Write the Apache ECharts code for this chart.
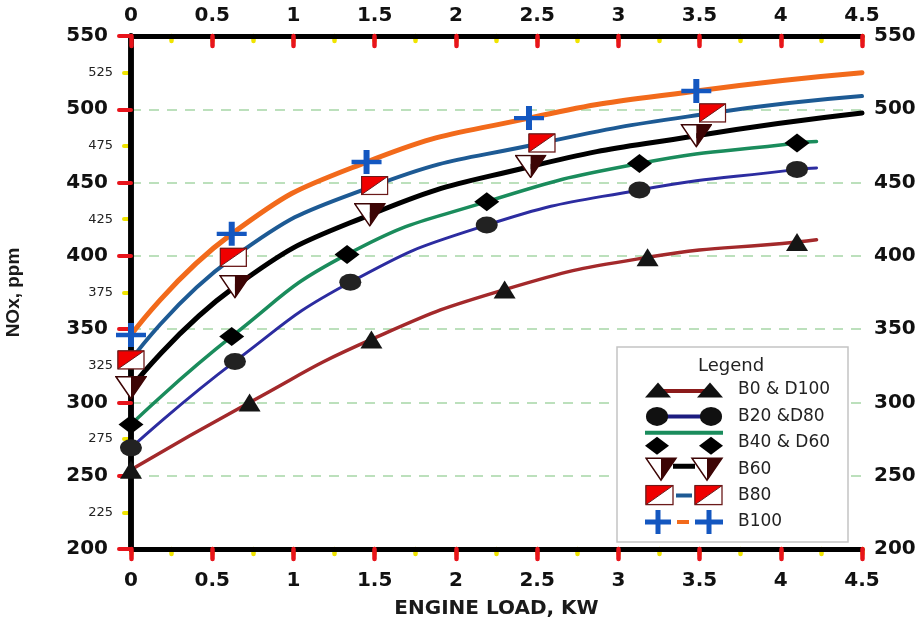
<!DOCTYPE html>
<html>
<head>
<meta charset="utf-8">
<script src="https://cdn.jsdelivr.net/npm/echarts@6/dist/echarts.min.js"></script>
<style>
  html, body { margin: 0; padding: 0; background: #fff; }
  #chart { width: 924px; height: 619px; }
</style>
</head>
<body>
<div id="chart"></div>
<script>
// Blend names as listed in the legend
const blends = ['B0 & D100', 'B20 &D80', 'B40 & D60', 'B60', 'B80', 'B100'];

// Measured points: engine load (kW) and NOx (ppm) for each blend
const b0Load = [0, 0.73, 1.48, 2.30, 3.18, 4.10];
const b0NOx = [254, 300, 343, 377, 399, 409.5];
const b20Load = [0, 0.64, 1.35, 2.19, 3.13, 4.10];
const b20NOx = [269, 328, 382, 421, 445, 459];
const b40Load = [0, 0.62, 1.33, 2.19, 3.13, 4.10];
const b40NOx = [285, 345, 401, 437, 463, 477];
const b60Load = [0, 0.64, 1.47, 2.46, 3.48];
const b60NOx = [310, 379, 428, 461, 482];
const b80Load = [0, 0.63, 1.50, 2.53, 3.58];
const b80NOx = [329, 399, 448, 477, 497.5];
const b100Load = [0, 0.62, 1.45, 2.45, 3.48];
const b100NOx = [346, 415, 464, 494, 512.5];

// Where each trend curve runs out (load, NOx)
const b0CurveEnd = [4.22, 411];
const b20CurveEnd = [4.22, 460];
const b40CurveEnd = [4.22, 478];
const b60CurveEnd = [4.5, 497.5];
const b80CurveEnd = [4.5, 509];
const b100CurveEnd = [4.5, 525];

// Axis ranges and tick steps
const loadRange = [0, 4.5];
const noxRange = [200, 550];
const loadStep = 0.5;
const noxStep = 50;

// ---- marker / legend artwork --------------------------------------------
function svgImage(w, h, body) {
  return 'image://data:image/svg+xml;charset=utf-8,' + encodeURIComponent(
    '<svg xmlns="http://www.w3.org/2000/svg" width="' + w + '" height="' + h +
    '" viewBox="0 0 ' + w + ' ' + h + '">' + body + '</svg>');
}
const DARK_RED = '#3d0505';
function halfTriangle(cx, cy, w, h) {
  const l = cx - w / 2, r = cx + w / 2, t = cy - h / 2, b = cy + h / 2;
  return '<polygon points="' + l + ',' + t + ' ' + cx + ',' + t + ' ' + cx + ',' + b + '" fill="#fff"/>' +
         '<polygon points="' + cx + ',' + t + ' ' + r + ',' + t + ' ' + cx + ',' + b + '" fill="' + DARK_RED + '"/>' +
         '<polygon points="' + l + ',' + t + ' ' + r + ',' + t + ' ' + cx + ',' + b + '" fill="none" stroke="' + DARK_RED + '" stroke-width="1.5"/>';
}
function flagSquare(x, y, w, h) {
  return '<rect x="' + x + '" y="' + y + '" width="' + w + '" height="' + h + '" fill="#fff" stroke="#6b1a1a" stroke-width="1.3"/>' +
         '<polygon points="' + x + ',' + y + ' ' + (x + w) + ',' + y + ' ' + x + ',' + (y + h) + '" fill="#f00000" stroke="#6b1a1a" stroke-width="1"/>';
}
function plus(cx, cy, w, h, t, color) {
  return '<rect x="' + (cx - w / 2) + '" y="' + (cy - t / 2) + '" width="' + w + '" height="' + t + '" fill="' + color + '"/>' +
         '<rect x="' + (cx - t / 2) + '" y="' + (cy - h / 2) + '" width="' + t + '" height="' + h + '" fill="' + color + '"/>';
}
function tri(cx, cy, w, h) {
  return '<polygon points="' + (cx - w / 2) + ',' + (cy + h / 2) + ' ' + cx + ',' + (cy - h / 2) + ' ' + (cx + w / 2) + ',' + (cy + h / 2) + '" fill="#111"/>';
}
function diamond(cx, cy, w, h) {
  return '<polygon points="' + (cx - w / 2) + ',' + cy + ' ' + cx + ',' + (cy - h / 2) + ' ' + (cx + w / 2) + ',' + cy + ' ' + cx + ',' + (cy + h / 2) + '" fill="#000"/>';
}

const B60_SYMBOL = svgImage(32, 24, halfTriangle(16, 12, 30, 22));
const B80_SYMBOL = svgImage(28, 20, flagSquare(1, 1, 26, 18));
const CROSS_PATH = 'path://M9.6,0 H14.4 V9.8 H24 V14.2 H14.4 V24 H9.6 V14.2 H0 V9.8 H9.6 Z';

const LW = 88, LH = 26;
const legendIcons = [
  svgImage(LW, LH, '<line x1="14" y1="14" x2="64" y2="14" stroke="#8b1a1a" stroke-width="4"/>' + tri(13, 13, 26, 15) + tri(65, 13, 26, 15)),
  svgImage(LW, LH, '<line x1="20" y1="13" x2="58" y2="13" stroke="#1c1c80" stroke-width="4"/>' +
    '<ellipse cx="12" cy="13" rx="11" ry="9.5" fill="#111"/><ellipse cx="66" cy="13" rx="11" ry="9.5" fill="#111"/>'),
  svgImage(LW, LH, '<line x1="0" y1="3" x2="78" y2="3" stroke="#1a8c5c" stroke-width="4"/>' + diamond(12, 16, 24, 18) + diamond(66, 16, 24, 18)),
  svgImage(LW, LH, '<line x1="28" y1="10" x2="50" y2="10" stroke="#000" stroke-width="5"/>' + halfTriangle(16, 13, 30, 22) + halfTriangle(62, 13, 30, 22)),
  svgImage(LW, LH, flagSquare(1, 3, 27, 19) + flagSquare(50, 3, 27, 19) +
    '<line x1="31" y1="13" x2="47" y2="13" stroke="#1d5a94" stroke-width="4"/>'),
  svgImage(LW, LH, '<line x1="32" y1="13" x2="44" y2="13" stroke="#f26a1b" stroke-width="4"/>' +
    plus(13, 13, 26, 24, 5, '#1457c0') + plus(64, 13, 28, 24, 5, '#1457c0'))
];

// ---- series ---------------------------------------------------------------
const groups = [
  { load: b0Load, nox: b0NOx, end: b0CurveEnd, color: '#a3292b', width: 3.5,
    symbol: 'triangle', size: [22, 18], markerColor: '#151515' },
  { load: b20Load, nox: b20NOx, end: b20CurveEnd, color: '#2c2ca0', width: 3,
    symbol: 'circle', size: [22, 17], markerColor: '#222' },
  { load: b40Load, nox: b40NOx, end: b40CurveEnd, color: '#1a8c5c', width: 3.5,
    symbol: 'diamond', size: [25, 19], markerColor: '#000' },
  { load: b60Load, nox: b60NOx, end: b60CurveEnd, color: '#000000', width: 5,
    symbol: B60_SYMBOL, size: [32, 24], markerColor: null },
  { load: b80Load, nox: b80NOx, end: b80CurveEnd, color: '#1d5a94', width: 4,
    symbol: B80_SYMBOL, size: [28, 20], markerColor: null },
  { load: b100Load, nox: b100NOx, end: b100CurveEnd, color: '#f26a1b', width: 5,
    symbol: CROSS_PATH, size: [30, 24], markerColor: '#1457c0' }
];

const series = [];
groups.forEach(function (g, i) {
  const pts = g.load.map(function (x, k) { return [x, g.nox[k]]; });
  series.push({
    name: blends[i], type: 'line', xAxisIndex: 0, yAxisIndex: 0,
    data: pts.concat([g.end]), smooth: 0.5,
    showSymbol: false, z: 3,
    lineStyle: { color: g.color, width: g.width, cap: 'round' },
    itemStyle: { color: g.color }
  });
});
groups.forEach(function (g, i) {
  const pts = g.load.map(function (x, k) { return [x, g.nox[k]]; });
  const s = {
    name: blends[i], type: 'scatter', xAxisIndex: 0, yAxisIndex: 0,
    data: pts, symbol: g.symbol, symbolSize: g.size, symbolKeepAspect: false, z: 4,
    itemStyle: { opacity: 1 }
  };
  if (g.markerColor) s.itemStyle.color = g.markerColor;
  series.push(s);
});

// ---- axes -----------------------------------------------------------------
const RED = '#e8141b', YELLOW = '#f0e400';
const majorFont = { fontSize: 20, fontWeight: 'bold', fontFamily: 'DejaVu Sans', color: '#111' };

function xAxisDef(pos, major) {
  const inside = pos === 'top';
  return {
    type: 'value', position: pos, min: loadRange[0], max: loadRange[1],
    interval: major ? loadStep : loadStep / 2, z: major ? 3 : 2,
    axisLine: { show: major, lineStyle: { color: '#000', width: 5 } },
    axisTick: { show: true, inside: inside, length: major ? 10 : 5,
      lineStyle: { color: major ? RED : YELLOW, width: 4.5, cap: 'round' } },
    axisLabel: Object.assign({ show: major, margin: pos === 'top' ? 10 : 22 }, majorFont),
    splitLine: { show: false }
  };
}
function yAxisDef(pos, major) {
  const inside = pos === 'right';
  const def = {
    type: 'value', position: pos, min: noxRange[0], max: noxRange[1],
    interval: major ? noxStep : noxStep / 2, z: major ? 3 : 2,
    axisLine: { show: major, lineStyle: { color: '#000', width: 5.5 } },
    axisTick: { show: true, inside: inside, length: major ? 12 : 7,
      lineStyle: { color: major ? RED : YELLOW, width: 4, cap: 'round' } },
    axisLabel: Object.assign({ show: major, margin: pos === 'left' ? 23 : 12 }, majorFont),
    splitLine: { show: false }
  };
  if (!major && pos === 'left') {
    def.axisLabel = {
      show: true, margin: 18, fontSize: 13, fontFamily: 'DejaVu Sans', color: '#222',
      formatter: function (v) { return v % noxStep ? String(v) : ''; }
    };
  }
  return def;
}

const xAxes = [xAxisDef('bottom', true), xAxisDef('bottom', false), xAxisDef('top', true), xAxisDef('top', false)];
xAxes[0].name = 'ENGINE LOAD, KW';
xAxes[0].nameLocation = 'middle';
xAxes[0].nameGap = 50;
xAxes[0].nameTextStyle = { fontSize: 20, fontWeight: 'bold', fontFamily: 'DejaVu Sans', color: '#1a1a1a' };

const yAxes = [yAxisDef('left', true), yAxisDef('left', false), yAxisDef('right', true), yAxisDef('right', false)];
yAxes[0].name = 'NOx, ppm';
yAxes[0].nameLocation = 'middle';
yAxes[0].nameGap = 108;
yAxes[0].nameRotate = 90;
yAxes[0].nameTextStyle = { fontSize: 19, fontWeight: 'bold', fontFamily: 'Liberation Sans', color: '#1a1a1a' };
yAxes[0].splitLine = { show: true, lineStyle: { color: '#a6d6a6', width: 1.5, type: [10, 8] } };

const chart = echarts.init(document.getElementById('chart'), null, { renderer: 'canvas' });
chart.setOption({
  animation: false,
  backgroundColor: '#ffffff',
  grid: { left: 131, right: 62, top: 36, bottom: 70, containLabel: false, outerBoundsMode: 'none' },
  xAxis: xAxes,
  yAxis: yAxes,
  legend: {
    orient: 'vertical', left: 645, top: 377, padding: 0, z: 10,
    itemWidth: LW, itemHeight: LH, itemGap: 0.4, selectedMode: false,
    textStyle: { fontSize: 17, fontFamily: 'DejaVu Sans', color: '#222' },
    data: blends.map(function (b, i) { return { name: b, icon: legendIcons[i] }; })
  },
  graphic: [
    { type: 'rect', z: 5, shape: { x: 617, y: 347, width: 231, height: 195 },
      style: { fill: '#ffffff', stroke: '#c4c4c4', lineWidth: 1.5 } },
    { type: 'text', z: 10, x: 731, y: 366,
      style: { text: 'Legend', fill: '#222', font: '18px "DejaVu Sans"', align: 'center', verticalAlign: 'middle' } }
  ],
  series: series
});
</script>
</body>
</html>
